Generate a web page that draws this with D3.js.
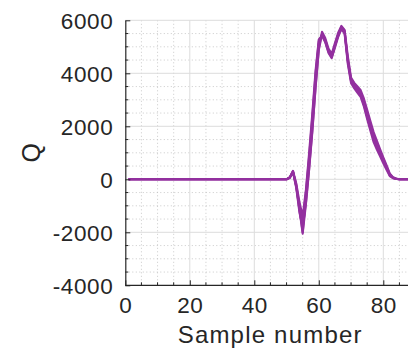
<!DOCTYPE html>
<html>
<head>
<meta charset="utf-8">
<script src="https://cdn.jsdelivr.net/npm/d3@7"></script>
<style>
  body { margin: 0; background: #fff; }
  svg { display: block; font-family: "Liberation Sans", Arial, sans-serif; }
</style>
</head>
<body>
<svg id="chart" width="408" height="349"></svg>
<script>
// sample numbers 1..88
const samples = d3.range(1, 89);

// several overlapping traces of Q
const qA = [0,0,0,0,0,0,0,0,0,0, 0,0,0,0,0,0,0,0,0,0, 0,0,0,0,0,0,0,0,0,0, 0,0,0,0,0,0,0,0,0,0, 0,0,0,0,0,0,0,0,0,0,
  60,290,-250,-1100,-2000,-700,650,2150,3800,5100, 5500,5250,4850,4650,5050,5450,5740,5580,4500,3750,
  3550,3400,3250,2900,2450,2020,1580,1280,1000,720, 460,170,60,20,0,0,0,0];
const qB = [0,0,0,0,0,0,0,0,0,0, 0,0,0,0,0,0,0,0,0,0, 0,0,0,0,0,0,0,0,0,0, 0,0,0,0,0,0,0,0,0,0, 0,0,0,0,0,0,0,0,0,0,
  80,320,-150,-850,-1400,-400,1000,2500,4100,5280, 5420,5170,4770,4570,4970,5370,5670,5500,4350,3630,
  3430,3260,3100,2740,2270,1830,1400,1120,870,600, 360,120,40,10,0,0,0,0];
const qC = [0,0,0,0,0,0,0,0,0,0, 0,0,0,0,0,0,0,0,0,0, 0,0,0,0,0,0,0,0,0,0, 0,0,0,0,0,0,0,0,0,0, 0,0,0,0,0,0,0,0,0,0,
  50,260,-320,-1250,-1800,-900,400,1850,3500,4920, 5570,5330,4930,4740,5140,5530,5790,5640,4650,3840,
  3640,3500,3360,3040,2620,2200,1780,1460,1140,830, 530,220,80,30,0,0,0,0];
const qD = [0,0,0,0,0,0,0,0,0,0, 0,0,0,0,0,0,0,0,0,0, 0,0,0,0,0,0,0,0,0,0, 0,0,0,0,0,0,0,0,0,0, 0,0,0,0,0,0,0,0,0,0,
  70,300,-280,-1150,-2050,-950,350,1800,3450,4880, 5470,5260,4880,4640,5060,5460,5760,5600,4520,3760,
  3560,3420,3260,2880,2420,1960,1500,1220,960,690, 430,150,50,10,0,0,0,0];
const qE = [0,0,0,0,0,0,0,0,0,0, 0,0,0,0,0,0,0,0,0,0, 0,0,0,0,0,0,0,0,0,0, 0,0,0,0,0,0,0,0,0,0, 0,0,0,0,0,0,0,0,0,0,
  70,280,-200,-1000,-1600,-500,850,2350,4000,5220, 5440,5190,4810,4600,5010,5410,5710,5530,4420,3700,
  3500,3340,3180,2800,2350,1900,1660,1360,1060,770, 490,190,70,20,0,0,0,0];
const traces = [qA, qB, qC, qD, qE];

const xTicks = [0, 20, 40, 60, 80];
const yTicks = [-4000, -2000, 0, 2000, 4000, 6000];

const svg = d3.select("#chart");
const pLeft = 125.3, pRight = 409.1, pTop = 20.3, pBottom = 285.3;

const x = d3.scaleLinear().domain([0, 88]).range([pLeft, pRight]);
const y = d3.scaleLinear().domain([-4000, 6000]).range([pBottom, pTop]);

// grid: minor dotted then major solid
const grid = svg.append("g");
const xMinor = d3.range(0, 89, 5).filter(v => v % 20 !== 0);
const yMinor = d3.range(-4000, 6001, 500).filter(v => v % 2000 !== 0);
grid.selectAll(".xm").data(xMinor).enter().append("line")
  .attr("x1", d => x(d)).attr("x2", d => x(d)).attr("y1", pTop).attr("y2", pBottom)
  .attr("stroke", "#bdbdbd").attr("stroke-width", 0.8).attr("stroke-dasharray", "1,2.5");
grid.selectAll(".ym").data(yMinor).enter().append("line")
  .attr("x1", pLeft).attr("x2", pRight).attr("y1", d => y(d)).attr("y2", d => y(d))
  .attr("stroke", "#bdbdbd").attr("stroke-width", 0.8).attr("stroke-dasharray", "1,2.5");
grid.selectAll(".xM").data(xTicks.filter(v => v > 0)).enter().append("line")
  .attr("x1", d => x(d)).attr("x2", d => x(d)).attr("y1", pTop).attr("y2", pBottom)
  .attr("stroke", "#dcdcdc").attr("stroke-width", 1);
grid.selectAll(".yM").data(yTicks.filter(v => v > -4000)).enter().append("line")
  .attr("x1", pLeft).attr("x2", pRight).attr("y1", d => y(d)).attr("y2", d => y(d))
  .attr("stroke", "#dcdcdc").attr("stroke-width", 1);

// traces
const line = d3.line().x((d, i) => x(samples[i])).y(d => y(d));
svg.append("g").selectAll("path").data(traces).enter().append("path")
  .attr("d", line)
  .attr("fill", "none")
  .attr("stroke", "#93309f")
  .attr("stroke-width", 2.1)
  .attr("stroke-linejoin", "round");

// axes (plain hyphen for negatives, like the original)
const fmt = d => String(d);
const xAxis = d3.axisBottom(x).tickValues(xTicks).tickFormat(fmt).tickSizeInner(-5).tickSizeOuter(0).tickPadding(0);
const yAxis = d3.axisLeft(y).tickValues(yTicks).tickFormat(fmt).tickSizeInner(-5).tickSizeOuter(0).tickPadding(0);

const gx = svg.append("g").attr("transform", `translate(0,${pBottom})`).call(xAxis);
const gy = svg.append("g").attr("transform", `translate(${pLeft},0)`).call(yAxis);

[gx, gy].forEach(g => {
  g.select(".domain").attr("stroke", "#262626").attr("stroke-width", 1.2);
  g.selectAll(".tick line").attr("stroke", "#262626");
  g.selectAll(".tick text").attr("fill", "#262626").style("font-size", "22.5px")
    .style("letter-spacing", "0.6px")
    .style("font-family", "'Liberation Sans', Arial, sans-serif");
});
gx.select(".domain").attr("d", `M${pLeft},0H${pRight}`);
gx.selectAll(".tick text").attr("dy", null).attr("y", 27.5);
gy.selectAll(".tick text").attr("x", -12).attr("dy", "0.35em");

// minor ticks
gx.selectAll(".mt").data(xMinor).enter().append("line")
  .attr("x1", d => x(d)).attr("x2", d => x(d)).attr("y1", 0).attr("y2", -3).attr("stroke", "#262626");
gy.selectAll(".mt").data(yMinor).enter().append("line")
  .attr("y1", d => y(d)).attr("y2", d => y(d)).attr("x1", 0).attr("x2", 3).attr("stroke", "#262626");

// labels
svg.append("text").attr("x", (pLeft + pRight) / 2 + 3).attr("y", 343.3)
  .attr("text-anchor", "middle").attr("fill", "#262626").style("font-size", "24px")
  .style("letter-spacing", "1.2px")
  .text("Sample number");
svg.append("text").attr("transform", `translate(40,${(pTop + pBottom) / 2}) rotate(-90)`)
  .attr("text-anchor", "middle").attr("fill", "#262626").style("font-size", "25px")
  .text("Q");
</script>
</body>
</html>
